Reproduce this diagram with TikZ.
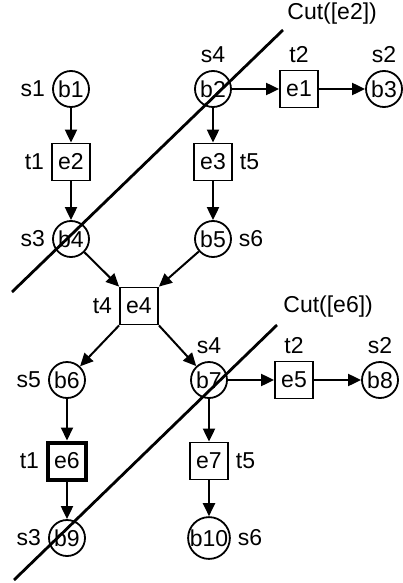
\documentclass[tikz,border=0pt]{standalone}
\usepackage{fontspec}
\setmainfont{Liberation Sans}
\usetikzlibrary{arrows.meta}

\begin{document}
\begin{tikzpicture}[x=0.5pt, y=-0.5pt,
        cond/.style={circle, draw, line width=0.9pt, minimum size=18pt, inner sep=0pt},
        event/.style={rectangle, draw, line width=0.9pt, minimum width=19pt, minimum height=18.5pt, inner sep=0pt},
        flow/.style={-{Triangle[length=6.5pt,width=6pt]}, line width=1pt},
        cut/.style={line width=1.4pt},
        font=\fontsize{11.5}{13}\selectfont]
    \useasboundingbox (0,0) rectangle (402,583);

    % first step of the run
    \node[cond,  label=left:s1]  (b1) at (71,89)  {b1};
    \node[cond,  label=above:s4] (b2) at (213,89) {b2};
    \node[event, label=above:t2] (e1) at (299,89) {e1};
    \node[cond,  label=above:s2] (b3) at (384,89) {b3};
    \node[event, label=left:t1]  (e2) at (71,162) {e2};
    \node[event, label=right:t5] (e3) at (213,162) {e3};
    \node[cond,  label=left:s3]  (b4) at (71,239) {b4};
    \node[cond,  label=right:s6] (b5) at (213,239) {b5};
    \node[event, label=left:t4]  (e4) at (139,306) {e4};

    % second step of the run
    \node[cond,  label=left:s5]  (b6) at (67,380)  {b6};
    \node[cond,  label=above:s4] (b7) at (209,380) {b7};
    \node[event, label=above:t2] (e5) at (294,380) {e5};
    \node[cond,  label=above:s2] (b8) at (380,380) {b8};
    \node[event, line width=2pt, label=left:t1] (e6) at (67,461) {e6};
    \node[event, label=right:t5] (e7) at (209,461) {e7};
    \node[cond,  label=left:s3]  (b9) at (67,538)  {b9};
    \node[cond,  label=right:s6] (b10) at (209,538) {b10};

    \draw[flow] (b1) -- (e2);
    \draw[flow] (e2) -- (b4);
    \draw[flow] (b2) -- (e3);
    \draw[flow] (e3) -- (b5);
    \draw[flow] (b2) -- (e1);
    \draw[flow] (e1) -- (b3);
    \draw[flow] (b4) -- (e4.north west);
    \draw[flow] (b5) -- (e4.north east);
    \draw[flow] (e4.south west) -- (b6);
    \draw[flow] (e4.south east) -- (b7);
    \draw[flow] (b7) -- (e5);
    \draw[flow] (e5) -- (b8);
    \draw[flow] (b6) -- (e6);
    \draw[flow] (e6) -- (b9);
    \draw[flow] (b7) -- (e7);
    \draw[flow] (e7) -- (b10);

    % the two cuts
    \coordinate (cut1a) at (12,292);
    \coordinate (cut1b) at (283,30);
    \coordinate (cut2a) at (14,580);
    \coordinate (cut2b) at (277,325);
    \draw[cut] (cut1a) -- (cut1b);
    \draw[cut] (cut2a) -- (cut2b);
    \node[anchor=west, inner sep=0pt] (cut1) at (287,14)  {Cut([e2])};
    \node[anchor=west, inner sep=0pt] (cut2) at (283,307) {Cut([e6])};
\end{tikzpicture}
\end{document}
